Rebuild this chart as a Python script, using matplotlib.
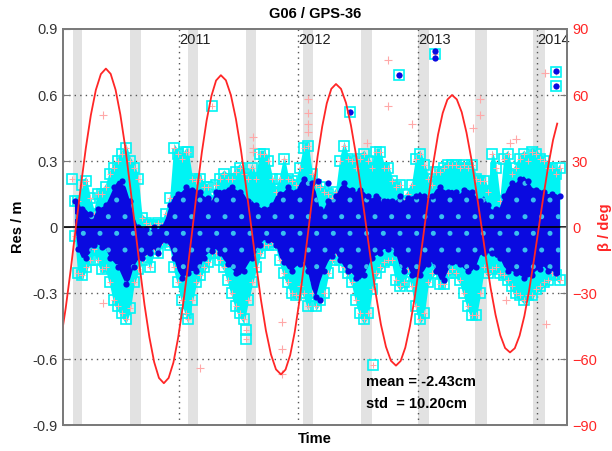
import matplotlib.pyplot as plt
import numpy as np

plt.rcParams['font.family'] = ['Liberation Sans', 'DejaVu Sans']
plt.rcParams['hatch.linewidth'] = 1.2

t_env = [2010.130, 2010.155, 2010.188, 2010.222, 2010.255, 2010.289, 2010.322, 2010.356, 2010.389, 2010.423,
         2010.456, 2010.490, 2010.523, 2010.556, 2010.590, 2010.623, 2010.657, 2010.690, 2010.724, 2010.757,
         2010.791, 2010.824, 2010.858, 2010.891, 2010.925, 2010.958, 2010.992, 2011.025, 2011.059,
         2011.075, 2011.109, 2011.142, 2011.176, 2011.209, 2011.243, 2011.276, 2011.310, 2011.343, 2011.377,
         2011.410, 2011.444, 2011.477, 2011.510, 2011.544, 2011.577, 2011.611, 2011.644, 2011.678, 2011.711,
         2011.745, 2011.778, 2011.812, 2011.845, 2011.879, 2011.912, 2011.946, 2011.979, 2012.013, 2012.046,
         2012.079, 2012.113, 2012.146, 2012.180, 2012.213, 2012.247, 2012.280, 2012.314, 2012.347, 2012.381,
         2012.414, 2012.448, 2012.481, 2012.515, 2012.548, 2012.582, 2012.615, 2012.649, 2012.682, 2012.715,
         2012.749, 2012.782, 2012.816, 2012.849, 2012.883, 2012.916, 2012.950, 2012.983, 2013.017, 2013.050,
         2013.084, 2013.117, 2013.151, 2013.184, 2013.218, 2013.251, 2013.285, 2013.318, 2013.351, 2013.385,
         2013.418, 2013.452, 2013.485, 2013.519, 2013.552, 2013.586, 2013.619, 2013.653, 2013.686, 2013.720,
         2013.753, 2013.787, 2013.820, 2013.854, 2013.887, 2013.921, 2013.954, 2013.987, 2014.021, 2014.054,
         2014.088, 2014.121, 2014.155, 2014.188]

# all residuals (cyan squares), upper / lower extent in m
cyan_hi = [0.14, 0.14, 0.21, 0.23, 0.15, 0.08, 0.17, 0.17, 0.20, 0.26,
           0.29, 0.32, 0.35, 0.38, 0.32, 0.29, 0.24, 0.06, 0.04, 0.03,
           0.03, 0.04, 0.03, 0.08, 0.15, 0.38, 0.35, 0.33, 0.36,
           0.36, 0.24, 0.23, 0.24, 0.20, 0.20, 0.14, 0.21, 0.24, 0.26,
           0.24, 0.24, 0.27, 0.29, 0.26, 0.24, 0.29, 0.24, 0.35, 0.35,
           0.32, 0.24, 0.18, 0.24, 0.33, 0.24, 0.23, 0.21, 0.29, 0.38,
           0.39, 0.26, 0.21, 0.20, 0.18, 0.17, 0.15, 0.18, 0.32, 0.39,
           0.33, 0.32, 0.29, 0.33, 0.35, 0.32, 0.29, 0.36, 0.36, 0.29,
           0.29, 0.23, 0.20, 0.21, 0.14, 0.17, 0.21, 0.33, 0.35, 0.30,
           0.24, 0.21, 0.27, 0.27, 0.29, 0.30, 0.30, 0.30, 0.29, 0.30,
           0.29, 0.30, 0.24, 0.23, 0.23, 0.18, 0.35, 0.29, 0.14, 0.33,
           0.35, 0.26, 0.29, 0.33, 0.35, 0.32, 0.36, 0.35, 0.33, 0.32,
           0.29, 0.29, 0.26, 0.29]
cyan_lo = [-0.06, -0.23, -0.24, -0.20, -0.17, -0.12, -0.17, -0.21, -0.20, -0.27,
           -0.35, -0.38, -0.41, -0.44, -0.39, -0.27, -0.21, -0.17, -0.14, -0.20,
           -0.12, -0.14, -0.09, -0.08, -0.10, -0.20, -0.27, -0.35, -0.41,
           -0.44, -0.35, -0.27, -0.24, -0.20, -0.18, -0.14, -0.14, -0.17, -0.20,
           -0.26, -0.32, -0.38, -0.41, -0.44, -0.35, -0.27, -0.20, -0.14, -0.10,
           -0.10, -0.09, -0.10, -0.17, -0.23, -0.27, -0.32, -0.33, -0.29, -0.32,
           -0.38, -0.32, -0.38, -0.35, -0.32, -0.23, -0.17, -0.14, -0.17, -0.20,
           -0.23, -0.27, -0.35, -0.41, -0.44, -0.41, -0.30, -0.23, -0.20, -0.18,
           -0.17, -0.17, -0.26, -0.29, -0.27, -0.21, -0.29, -0.38, -0.44, -0.41,
           -0.27, -0.23, -0.21, -0.28, -0.28, -0.23, -0.21, -0.23, -0.26, -0.32,
           -0.38, -0.42, -0.42, -0.32, -0.20, -0.23, -0.21, -0.20, -0.23, -0.24,
           -0.26, -0.29, -0.32, -0.33, -0.35, -0.33, -0.33, -0.30, -0.29, -0.27,
           -0.26, -0.23, -0.24, -0.26]

# accepted residuals (blue dots), upper / lower extent in m
blue_hi = [0.12, 0.12, 0.08, 0.08, 0.06, 0.05, 0.08, 0.09, 0.10, 0.14,
           0.18, 0.21, 0.21, 0.18, 0.12, 0.05, 0.00, 0.00, -0.01, -0.02,
           0.00, -0.01, 0.00, 0.04, 0.10, 0.14, 0.15, 0.16, 0.18,
           0.18, 0.17, 0.17, 0.16, 0.14, 0.13, 0.12, 0.16, 0.17, 0.16,
           0.18, 0.18, 0.17, 0.16, 0.15, 0.12, 0.12, 0.10, 0.09, 0.08,
           0.09, 0.10, 0.14, 0.15, 0.16, 0.18, 0.17, 0.16, 0.20, 0.22,
           0.21, 0.20, 0.16, 0.08, 0.08, 0.12, 0.12, 0.14, 0.18, 0.20,
           0.18, 0.17, 0.16, 0.17, 0.16, 0.14, 0.13, 0.14, 0.14, 0.12,
           0.13, 0.12, 0.12, 0.14, 0.12, 0.13, 0.14, 0.14, 0.16, 0.14,
           0.13, 0.14, 0.17, 0.18, 0.17, 0.16, 0.17, 0.16, 0.15, 0.17,
           0.17, 0.16, 0.14, 0.12, 0.14, 0.10, 0.08, 0.08, 0.09, 0.14,
           0.18, 0.20, 0.20, 0.22, 0.23, 0.21, 0.18, 0.17, 0.17, 0.16,
           0.15, 0.15, 0.15, 0.14]
blue_lo = [0.02, -0.10, -0.14, -0.14, -0.12, -0.08, -0.08, -0.09, -0.10, -0.14,
           -0.16, -0.18, -0.22, -0.26, -0.24, -0.18, -0.15, -0.14, -0.13, -0.12,
           -0.10, -0.12, -0.08, -0.06, -0.09, -0.14, -0.20, -0.23, -0.22,
           -0.21, -0.20, -0.20, -0.19, -0.14, -0.12, -0.11, -0.10, -0.12, -0.15,
           -0.17, -0.19, -0.21, -0.22, -0.20, -0.17, -0.14, -0.12, -0.08, -0.06,
           -0.06, -0.07, -0.08, -0.14, -0.16, -0.19, -0.20, -0.18, -0.17, -0.16,
           -0.20, -0.28, -0.32, -0.25, -0.20, -0.16, -0.13, -0.12, -0.15, -0.18,
           -0.20, -0.21, -0.23, -0.24, -0.22, -0.18, -0.14, -0.13, -0.12, -0.10,
           -0.10, -0.10, -0.12, -0.18, -0.20, -0.18, -0.22, -0.23, -0.22, -0.20,
           -0.17, -0.16, -0.20, -0.24, -0.24, -0.20, -0.16, -0.17, -0.17, -0.19,
           -0.20, -0.20, -0.18, -0.13, -0.12, -0.12, -0.12, -0.14, -0.14, -0.18,
           -0.20, -0.20, -0.21, -0.22, -0.23, -0.23, -0.22, -0.20, -0.19, -0.18,
           -0.20, -0.20, -0.21, -0.22]

# isolated points
sq_t = [2010.105, 2011.276, 2011.560, 2011.560, 2012.431, 2012.623, 2012.841, 2013.142, 2014.155, 2014.155]
sq_v = [0.22, 0.55, -0.47, -0.51, 0.523, -0.627, 0.69, 0.785, 0.705, 0.64]
dot_t = [2012.431, 2012.841, 2013.142, 2013.142, 2014.155, 2014.155, 2012.163, 2012.247, 2012.180]
dot_v = [0.523, 0.69, 0.80, 0.77, 0.71, 0.64, 0.21, 0.20, -0.33]
plus_t = [2010.364, 2011.620, 2011.620, 2011.620, 2010.364, 2011.176, 2011.860, 2011.860, 2011.860,
          2012.749, 2012.749, 2012.950, 2012.573, 2013.519, 2013.519, 2013.460, 2014.063,
          2012.080, 2012.080, 2012.080, 2012.080, 2013.770, 2013.820, 2013.736, 2014.071]
plus_v = [0.51, 0.41, 0.36, 0.34, -0.345, -0.64, -0.43, -0.555, -0.67,
          0.76, 0.55, 0.47, 0.38, 0.58, 0.51, 0.45, 0.70,
          0.58, 0.52, 0.47, 0.43, 0.38, 0.40, -0.33, -0.44]

# beta angle of the orbit plane
t_beta = [2010.011, 2010.053, 2010.095, 2010.137, 2010.179, 2010.221, 2010.263, 2010.305, 2010.347, 2010.389,
          2010.429, 2010.470, 2010.510, 2010.551, 2010.591, 2010.632, 2010.672, 2010.712, 2010.753, 2010.793, 2010.833, 2010.874,
          2010.914, 2010.954, 2010.993, 2011.033, 2011.073, 2011.113, 2011.152, 2011.192, 2011.232, 2011.272, 2011.311, 2011.351,
          2011.393, 2011.435, 2011.477, 2011.519, 2011.561, 2011.603, 2011.645, 2011.686, 2011.728, 2011.770, 2011.812, 2011.854,
          2011.892, 2011.931, 2011.969, 2012.007, 2012.045, 2012.084, 2012.122, 2012.160, 2012.199, 2012.237, 2012.275, 2012.314,
          2012.356, 2012.398, 2012.439, 2012.481, 2012.523, 2012.565, 2012.607, 2012.649, 2012.690, 2012.732, 2012.774, 2012.816,
          2012.855, 2012.894, 2012.933, 2012.972, 2013.012, 2013.051, 2013.090, 2013.129, 2013.168, 2013.207, 2013.246, 2013.285,
          2013.325, 2013.366, 2013.406, 2013.447, 2013.487, 2013.528, 2013.568, 2013.608, 2013.649, 2013.689, 2013.729, 2013.770,
          2013.810, 2013.850, 2013.890, 2013.930, 2013.970, 2014.010, 2014.050, 2014.090, 2014.130, 2014.165]
beta = [-51.8, -36.8, -19.3, -0.5, 18.3, 35.8, 50.8, 62.3, 69.5, 72.0,
        69.6, 62.4, 51.1, 36.3, 19.0, 0.5, -18.0, -35.3, -50.1, -61.4, -68.6, -71.0,
        -68.6, -61.6, -50.5, -36.0, -19.1, -1.0, 17.1, 34.0, 48.5, 59.6, 66.6, 69.0,
        66.7, 59.9, 49.1, 35.0, 18.6, 1.0, -16.6, -33.0, -47.1, -57.9, -64.7, -67.0,
        -64.8, -58.2, -47.7, -34.0, -18.1, -1.0, 16.1, 32.0, 45.7, 56.2, 62.8, 65.0,
        62.8, 56.4, 46.3, 33.0, 17.6, 1.0, -15.6, -31.0, -44.3, -54.4, -60.8, -63.0,
        -60.9, -54.8, -45.0, -32.3, -17.4, -1.5, 14.4, 29.3, 42.0, 51.8, 57.9, 60.0,
        58.0, 52.2, 42.9, 30.8, 16.6, 1.5, -13.6, -27.8, -39.9, -49.2, -55.0, -57.0,
        -55.1, -49.4, -40.5, -28.8, -15.1, -0.5, 14.1, 27.8, 39.5, 47.0]

# eclipse seasons
eclipse_start = [2010.113, 2010.590, 2011.075, 2011.561, 2012.038, 2012.523, 2013.000, 2013.477, 2013.962]
eclipse_end = [2010.188, 2010.682, 2011.159, 2011.644, 2012.121, 2012.615, 2013.092, 2013.577, 2014.063]

years = [2011, 2012, 2013, 2014]
res_ticks = [-0.9, -0.6, -0.3, 0, 0.3, 0.6, 0.9]
res_labels = ['-0.9', '-0.6', '-0.3', '0', '0.3', '0.6', '0.9']
beta_ticks = [-90, -60, -30, 0, 30, 60, 90]

cyan = '#00f4f4'
blue = '#0a0ae0'
pink = '#ffa8a8'
red = '#ff2626'
frame = '#7a7a7a'

fig = plt.figure(figsize=(6.12, 4.51), dpi=100)
ax = fig.add_axes([0.1029, 0.0576, 0.8236, 0.8781])

for a, b in zip(eclipse_start, eclipse_end):
    ax.axvspan(a, b, color='#e2e2e2', lw=0, zorder=0)

for yv in [-0.6, -0.3, 0.3, 0.6]:
    ax.axhline(yv, color='#555555', lw=1.0, ls=(0, (1, 3)), zorder=1)
for yr in years:
    ax.axvline(yr, color='#555555', lw=1.0, ls=(0, (1, 3)), zorder=1)
    ax.text(yr, 0.85, str(yr), fontsize=10.5, color='#222222', ha='left', va='center', zorder=6)

t_env = np.array(t_env)
ax.fill_between(t_env, cyan_lo, cyan_hi, color=cyan, lw=0, zorder=2)
ax.plot(t_env, np.array(cyan_hi) - 0.02, 's', ms=7, mfc='none', mec=cyan, mew=1.2, zorder=2)
ax.plot(t_env, np.array(cyan_lo) + 0.02, 's', ms=7, mfc='none', mec=cyan, mew=1.2, zorder=2)
ax.plot(t_env, np.array(cyan_hi) - 0.02, '+', ms=4, color=pink, mew=0.7, zorder=2)
ax.plot(t_env, np.array(cyan_lo) + 0.02, '+', ms=4, color=pink, mew=0.7, zorder=2)
ax.plot(sq_t, sq_v, 's', ms=7, mfc='none', mec=cyan, mew=1.2, zorder=3)
ax.plot(sq_t, sq_v, '+', ms=4, color=pink, mew=0.7, zorder=3)
ax.plot(plus_t, plus_v, '+', ms=6, color=pink, mew=0.8, zorder=3)

# dense accepted residuals: blue with sparse cyan speckle
ax.fill_between(t_env, blue_lo, blue_hi, facecolor=blue, edgecolor='#38c0f0', hatch='.', lw=0, zorder=4)
ax.plot(t_env[::2], blue_hi[::2], 'o', ms=4.5, color=blue, mew=0, zorder=4)
ax.plot(t_env[1::2], blue_lo[1::2], 'o', ms=4.5, color=blue, mew=0, zorder=4)
ax.plot(dot_t, dot_v, 'o', ms=4.5, color=blue, mew=0, zorder=4)

ax.axhline(0, color='black', lw=1.2, zorder=5)

ax.set_xlim(2010.03, 2014.247)
ax.set_ylim(-0.9, 0.9)
ax.set_xticks([])
ax.set_yticks(res_ticks)
ax.set_yticklabels(res_labels)
ax.tick_params(axis='y', direction='in', length=5, color=frame, labelsize=10.5, labelcolor='#333333')
ax.set_ylabel('Res / m', fontsize=10.5, fontweight='bold', labelpad=6)
ax.set_xlabel('Time', fontsize=10.5, fontweight='bold', labelpad=5)
ax.set_title('G06 / GPS-36', fontsize=10.5, fontweight='bold', pad=8)

ax.text(2012.565, -0.705, 'mean = -2.43cm', fontsize=10.5, fontweight='bold', ha='left', va='center', zorder=6)
ax.text(2012.565, -0.805, 'std  = 10.20cm', fontsize=10.5, fontweight='bold', ha='left', va='center', zorder=6)

ax2 = ax.twinx()
ax2.plot(t_beta, beta, color=red, lw=1.3)
ax2.set_ylim(-90, 90)
ax2.set_yticks(beta_ticks)
ax2.tick_params(axis='y', direction='in', length=5, color=frame, labelsize=10.5, labelcolor=red)
ax2.set_ylabel('β / deg', fontsize=10.5, fontweight='bold', color=red, labelpad=1)

for a in (ax, ax2):
    for s in a.spines.values():
        s.set_color(frame)
        s.set_linewidth(1.3)

fig.savefig('out.png', dpi=100)
